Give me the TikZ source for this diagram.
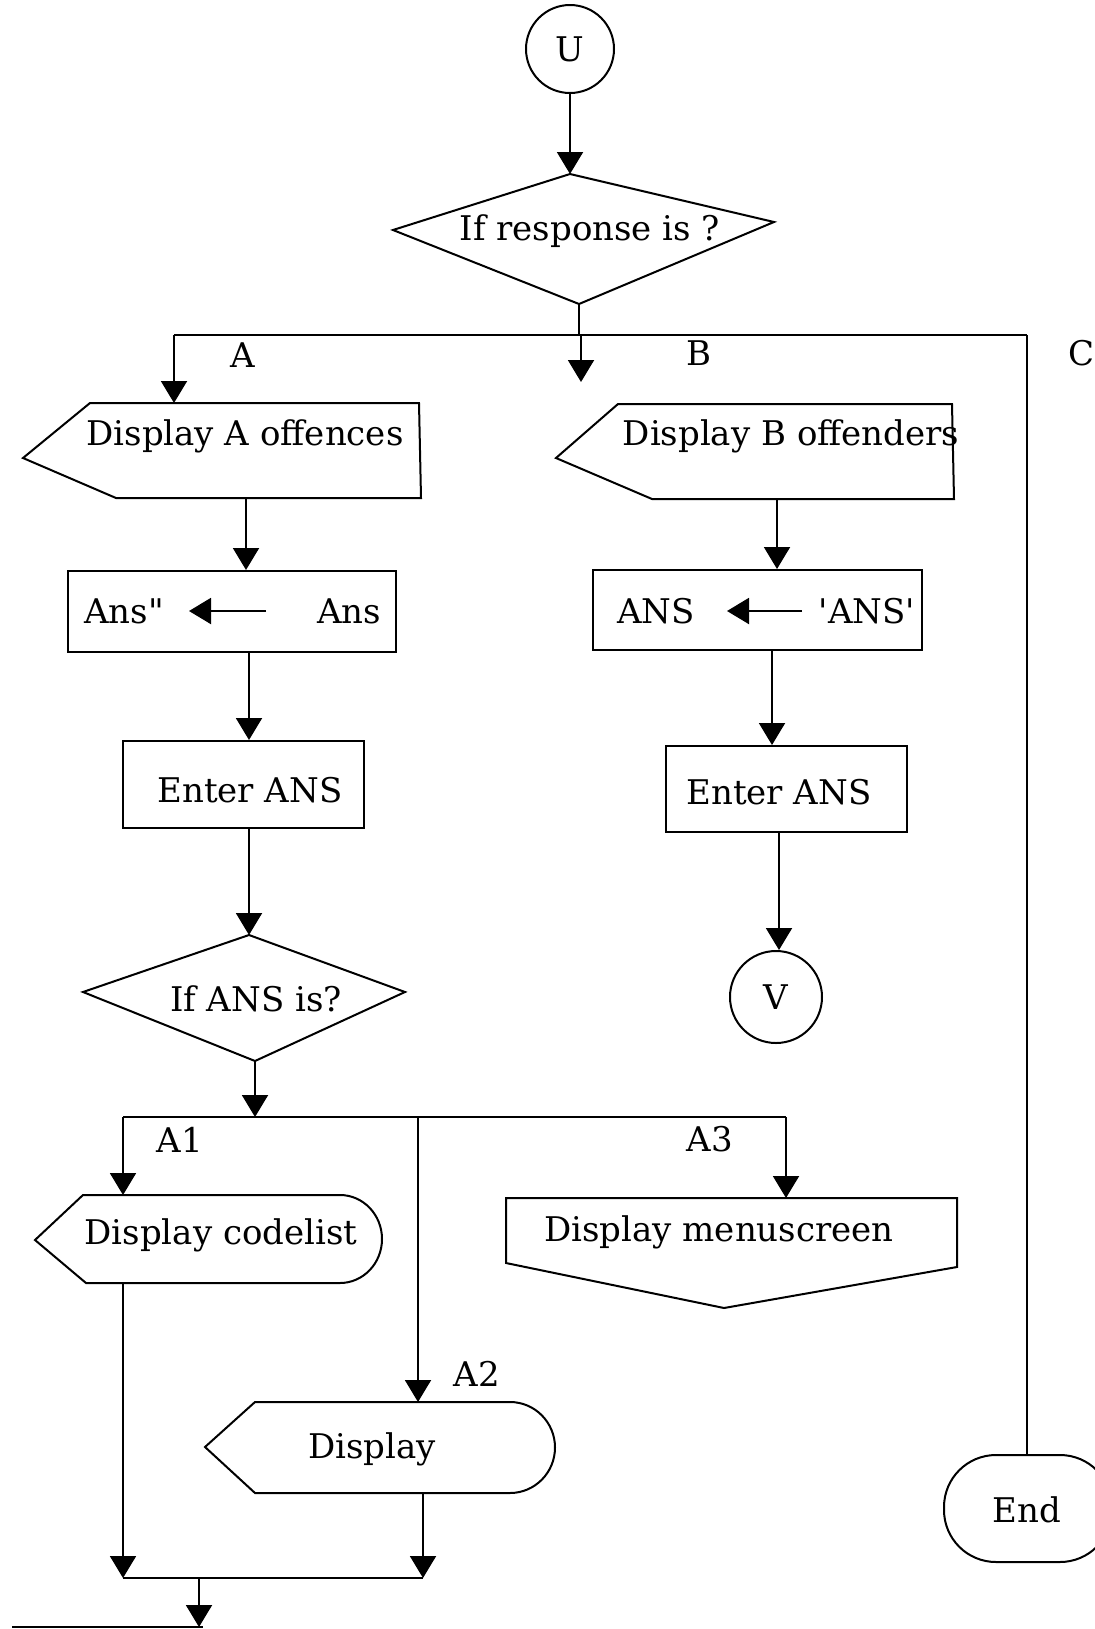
\documentclass[tikz,border=0pt]{standalone}
\usepackage{fontspec}
\setmainfont{DejaVu Serif}
\newfontfamily\plainq{DejaVu Serif}
\usetikzlibrary{arrows.meta}
\begin{document}
\begin{tikzpicture}[x=0.5pt,y=-0.5pt,
  ln/.style={line width=1pt},
  arr/.style={line width=1pt,-{Triangle[width=13pt,length=11pt]}},
  txt/.style={inner sep=0pt,font=\fontsize{17}{20}\selectfont},
  shp/.style={draw,line width=1pt,line join=miter}]
\useasboundingbox (0,0) rectangle (1094,1629);

% ---- U and first decision
\node[circle,draw,line width=1pt,minimum size=44pt,inner sep=0pt,txt] (U) at (570,49) {U};
\coordinate (d1t) at (570,174);
\coordinate (d1r) at (774,222);
\coordinate (d1b) at (579,304);
\coordinate (d1l) at (393,230);
\draw[shp] (d1l) -- (d1t) -- (d1r) -- (d1b) -- cycle;
\node[txt] (d1txt) at (590,231) {If response is ?};
\draw[arr] (U.south) -- (d1t);

% ---- branch line
\coordinate (brj) at (579,335);
\coordinate (brA) at (174,335);
\coordinate (brC) at (1027,335);
\coordinate (brB) at (581,335);
\coordinate (Bfree) at (581,382);
\draw[ln] (d1b) -- (brj);
\draw[ln] (brA) -- (brC);
\draw[arr] (brB) -- (Bfree);
\node[txt] (lA) at (243,355) {A};
\node[txt] (lB) at (699,353) {B};
\node[txt] (lC) at (1081,353) {C};

% ---- Display A offences
\coordinate (dAtip) at (23,458);
\coordinate (dAtl) at (90,403);
\coordinate (dAtr) at (419,403);
\coordinate (dAbr) at (421,498);
\coordinate (dAbl) at (116,498);
\draw[shp] (dAtip) -- (dAtl) -- (dAtr) -- (dAbr) -- (dAbl) -- cycle;
\node[txt] (dAtxt) at (245,436) {Display A offences};
\coordinate (dAtop) at (174,403);
\draw[arr] (brA) -- (dAtop);

% ---- Ans box
\node[draw,line width=1pt,minimum width=164pt,minimum height=40.5pt,inner sep=0pt] (ansA) at (232,611.5) {};
\node[txt] (ansAl) at (124,611) {\plainq Ans"};
\node[txt] (ansAr) at (349,611) {Ans};
\coordinate (ansAas) at (266,611);
\coordinate (ansAae) at (189,611);
\draw[arr] (ansAas) -- (ansAae);
\coordinate (dAbot) at (246,498);
\draw[arr] (dAbot) -- (ansA.north -| dAbot);

% ---- Enter ANS (A)
\node[draw,line width=1pt,minimum width=120.5pt,minimum height=43.5pt,inner sep=0pt] (entA) at (243.5,784.5) {};
\node[txt] (entAt) at (250,790) {Enter ANS};
\coordinate (ansAbot) at (249,652);
\draw[arr] (ansAbot) -- (entA.north -| ansAbot);

% ---- If ANS is?
\coordinate (d2t) at (249,935);
\coordinate (d2r) at (405,992);
\coordinate (d2b) at (255,1061);
\coordinate (d2l) at (83,992);
\draw[shp] (d2l) -- (d2t) -- (d2r) -- (d2b) -- cycle;
\node[txt] (d2txt) at (256,999) {If ANS is?};
\coordinate (entAbot) at (249,828);
\draw[arr] (entAbot) -- (d2t);

% ---- second branch line
\coordinate (br2j) at (255,1117);
\coordinate (br2A1) at (123,1117);
\coordinate (br2A2) at (418,1117);
\coordinate (br2A3) at (786,1117);
\draw[arr] (d2b) -- (br2j);
\draw[ln] (br2A1) -- (br2A3);
\node[txt] (lA1) at (180,1140) {A1};
\node[txt] (lA3) at (710,1139) {A3};
\node[txt] (lA2) at (477,1374) {A2};

% ---- Display codelist
\coordinate (cltip) at (35,1240);
\coordinate (cltl) at (83,1195);
\coordinate (cltr) at (340,1195);
\coordinate (clbl) at (86,1283);
\draw[shp] (cltip) -- (cltl) -- (cltr) arc[start angle=90,end angle=-90,x radius=42,y radius=-44] -- (clbl) -- cycle;
\node[txt] (cltxt) at (221,1235) {Display codelist};
\coordinate (cltop) at (123,1195);
\draw[arr] (br2A1) -- (cltop);

% ---- Display menuscreen
\coordinate (mstl) at (506,1198);
\coordinate (mstr) at (957,1198);
\coordinate (msbr) at (957,1267);
\coordinate (mspt) at (724,1308);
\coordinate (msbl) at (506,1263);
\draw[shp] (mstl) -- (mstr) -- (msbr) -- (mspt) -- (msbl) -- cycle;
\node[txt] (mstxt) at (719,1232) {Display menuscreen};
\coordinate (mstop) at (786,1198);
\draw[arr] (br2A3) -- (mstop);

% ---- Display (A2)
\coordinate (dstip) at (205,1447);
\coordinate (dstl) at (255,1402);
\coordinate (dstr) at (510,1402);
\coordinate (dsbl) at (255,1493);
\draw[shp] (dstip) -- (dstl) -- (dstr) arc[start angle=90,end angle=-90,x radius=45,y radius=-45.5] -- (dsbl) -- cycle;
\node[txt] (dstxt) at (372,1449) {Display};
\coordinate (dstop) at (418,1402);
\draw[arr] (br2A2) -- (dstop);

% ---- merge at bottom
\coordinate (clbot) at (123,1283);
\coordinate (dsbot) at (423,1493);
\coordinate (m1) at (123,1578);
\coordinate (m2) at (423,1578);
\coordinate (mj) at (199,1578);
\coordinate (mout) at (199,1627);
\coordinate (ol) at (12,1627);
\coordinate (or) at (203,1627);
\draw[arr] (clbot) -- (m1);
\draw[arr] (dsbot) -- (m2);
\draw[ln] (m1) -- (m2);
\draw[arr] (mj) -- (mout);
\draw[ln] (ol) -- (or);

% ---- B side
\coordinate (dBtip) at (556,458);
\coordinate (dBtl) at (618,404);
\coordinate (dBtr) at (952,404);
\coordinate (dBbr) at (954,499);
\coordinate (dBbl) at (652,499);
\draw[shp] (dBtip) -- (dBtl) -- (dBtr) -- (dBbr) -- (dBbl) -- cycle;
\node[txt] (dBtxt) at (791,436) {Display B offenders};

\node[draw,line width=1pt,minimum width=164.5pt,minimum height=40pt,inner sep=0pt] (ansB) at (757.5,610) {};
\node[txt] (ansBl) at (656,611) {ANS};
\node[txt] (ansBr) at (867,611) {\plainq 'ANS'};
\coordinate (ansBas) at (802,611);
\coordinate (ansBae) at (727,611);
\draw[arr] (ansBas) -- (ansBae);
\coordinate (dBbot) at (777,499);
\draw[arr] (dBbot) -- (ansB.north -| dBbot);

\node[draw,line width=1pt,minimum width=120.5pt,minimum height=43pt,inner sep=0pt] (entB) at (786.5,789) {};
\node[txt] (entBt) at (779,792) {Enter ANS};
\coordinate (ansBbot) at (772,650);
\draw[arr] (ansBbot) -- (entB.north -| ansBbot);

\node[circle,draw,line width=1pt,minimum size=46pt,inner sep=0pt,txt] (V) at (776,997) {V};
\coordinate (entBbot) at (779,832);
\draw[arr] (entBbot) -- (V.north -| entBbot);

% ---- End
\draw[line width=1pt,rounded corners=26pt] (944,1455) rectangle (1112,1562);
\node[txt] (End) at (1027,1510) {End};
\coordinate (Endtop) at (1027,1455);
\draw[ln] (brC) -- (Endtop);
\end{tikzpicture}
\end{document}
